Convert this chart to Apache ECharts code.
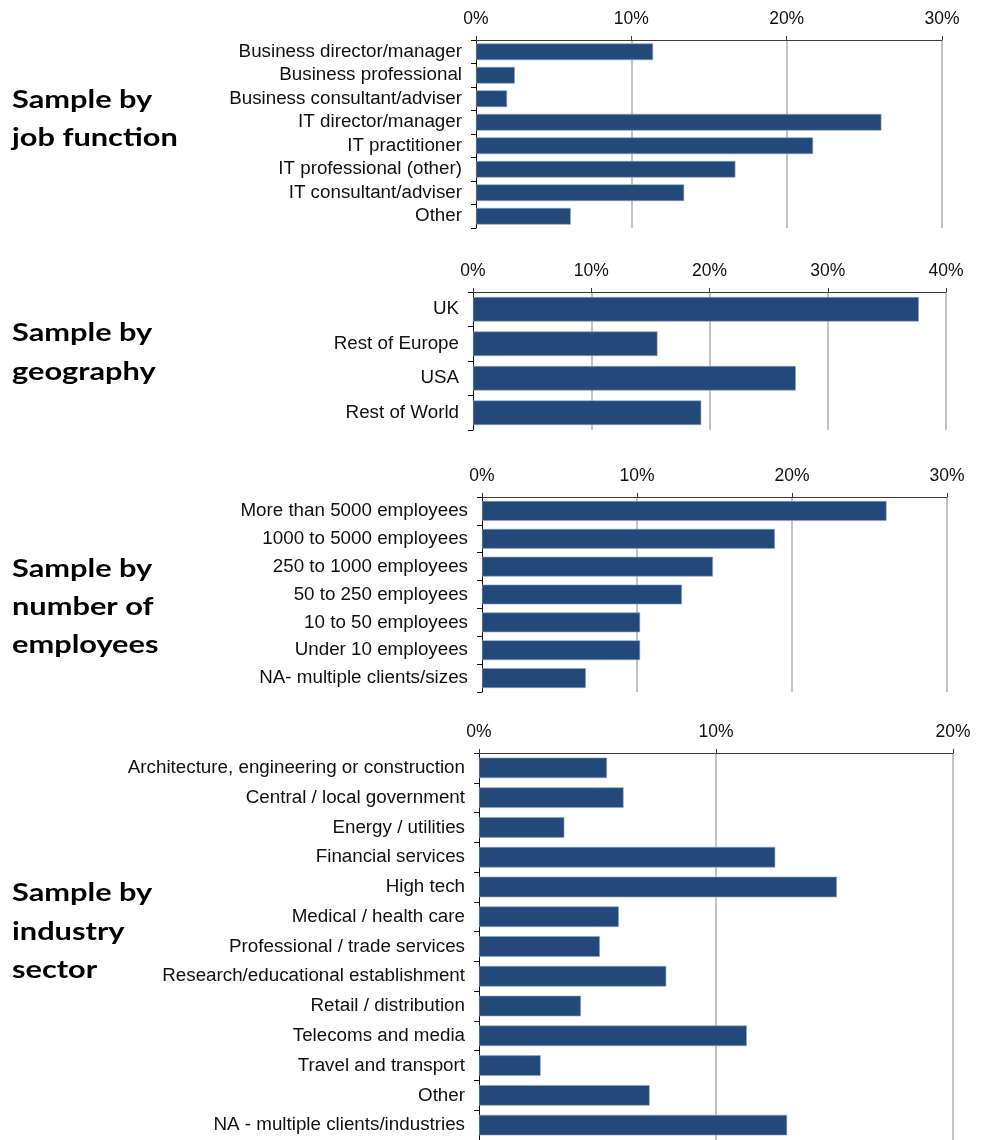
<!DOCTYPE html>
<html>
<head>
<meta charset="utf-8">
<script src="https://cdn.jsdelivr.net/npm/echarts@6/dist/echarts.min.js"></script>
<style>
  html, body { margin: 0; padding: 0; background: #ffffff; }
  #chart { width: 989px; height: 1140px; }
</style>
</head>
<body>
<div id="chart"></div>
<script>
// Job function
const jobCategories = [
  'Business director/manager', 'Business professional', 'Business consultant/adviser',
  'IT director/manager', 'IT practitioner', 'IT professional (other)',
  'IT consultant/adviser', 'Other'
];
const jobValues = [11.4, 2.5, 2.0, 26.1, 21.7, 16.7, 13.4, 6.1];
const jobTicks = [0, 10, 20, 30];

// Geography
const geoCategories = ['UK', 'Rest of Europe', 'USA', 'Rest of World'];
const geoValues = [37.7, 15.6, 27.3, 19.3];
const geoTicks = [0, 10, 20, 30, 40];

// Number of employees
const sizeCategories = [
  'More than 5000 employees', '1000 to 5000 employees', '250 to 1000 employees',
  '50 to 250 employees', '10 to 50 employees', 'Under 10 employees',
  'NA- multiple clients/sizes'
];
const sizeValues = [26.1, 18.9, 14.9, 12.9, 10.2, 10.2, 6.7];
const sizeTicks = [0, 10, 20, 30];

// Industry sector
const sectorCategories = [
  'Architecture, engineering or construction', 'Central / local government',
  'Energy / utilities', 'Financial services', 'High tech', 'Medical / health care',
  'Professional / trade services', 'Research/educational establishment',
  'Retail / distribution', 'Telecoms and media', 'Travel and transport', 'Other',
  'NA - multiple clients/industries'
];
const sectorValues = [5.4, 6.1, 3.6, 12.5, 15.1, 5.9, 5.1, 7.9, 4.3, 11.3, 2.6, 7.2, 13.0];
const sectorTicks = [0, 10, 20];

const panelTitles = [
  ['Sample by', 'job function'],
  ['Sample by', 'geography'],
  ['Sample by', 'number of', 'employees'],
  ['Sample by', 'industry', 'sector']
];

const BAR = '#22497a';
const LABEL_FONT = '"Liberation Sans", Arial, sans-serif';

const panels = [
  { cats: jobCategories, vals: jobValues, ticks: jobTicks,
    grid: { left: 476, top: 40, width: 466, height: 188 }, gap: '29%', titleY: [100, 138] },
  { cats: geoCategories, vals: geoValues, ticks: geoTicks,
    grid: { left: 473, top: 292, width: 473, height: 138 }, gap: '29%', titleY: [333, 372] },
  { cats: sizeCategories, vals: sizeValues, ticks: sizeTicks,
    grid: { left: 482, top: 497, width: 465, height: 195 }, gap: '29%', titleY: [569, 607, 645] },
  { cats: sectorCategories, vals: sectorValues, ticks: sectorTicks,
    grid: { left: 479, top: 753, width: 474, height: 390 }, gap: '31%', titleY: [893, 932, 970] }
];

const grids = [], xAxes = [], yAxes = [], series = [], graphics = [];

panels.forEach((p, i) => {
  grids.push(Object.assign({ containLabel: false }, p.grid));
  const tMin = p.ticks[0];
  const tMax = p.ticks[p.ticks.length - 1];
  xAxes.push({
    type: 'value', gridIndex: i, position: 'top',
    min: tMin, max: tMax, interval: p.ticks[1] - p.ticks[0],
    axisLine: { show: true, lineStyle: { color: '#3a3a3a', width: 1 } },
    axisTick: { show: true, inside: false, length: 4, lineStyle: { color: '#3a3a3a' } },
    axisLabel: { formatter: '{value}%', color: '#111', fontSize: 17.5, fontFamily: LABEL_FONT, margin: 12 },
    splitLine: { show: true, showMinLine: false, lineStyle: { color: '#c3c3c3', width: 2 } }
  });
  yAxes.push({
    type: 'category', gridIndex: i, inverse: true, data: p.cats,
    axisLine: { show: true, lineStyle: { color: '#111', width: 1 } },
    axisTick: { show: true, length: 5, interval: 0, lineStyle: { color: '#111' } },
    axisLabel: { interval: 0, color: '#111', fontSize: 18.8, fontFamily: LABEL_FONT, margin: 14 },
    splitLine: { show: false }
  });
  series.push({
    type: 'bar', xAxisIndex: i, yAxisIndex: i, data: p.vals,
    barCategoryGap: p.gap,
    itemStyle: { color: BAR, borderColor: '#8ea4c2', borderWidth: 0.6 },
    silent: true, animation: false
  });
  // Panel heading, set in a wide bold face
  panelTitles[i].forEach((line, k) => {
    graphics.push({
      type: 'text', x: 12, y: p.titleY[k] - 13, scaleX: 1.23, scaleY: 1,
      style: { text: line, fill: '#000', font: 'bold 25px Lato, "Open Sans", sans-serif',
               textAlign: 'left', textVerticalAlign: 'top' }
    });
  });
});

const chart = echarts.init(document.getElementById('chart'), null, { renderer: 'canvas' });
chart.setOption({
  animation: false,
  backgroundColor: '#ffffff',
  grid: grids,
  xAxis: xAxes,
  yAxis: yAxes,
  series: series,
  graphic: graphics
});
</script>
</body>
</html>
